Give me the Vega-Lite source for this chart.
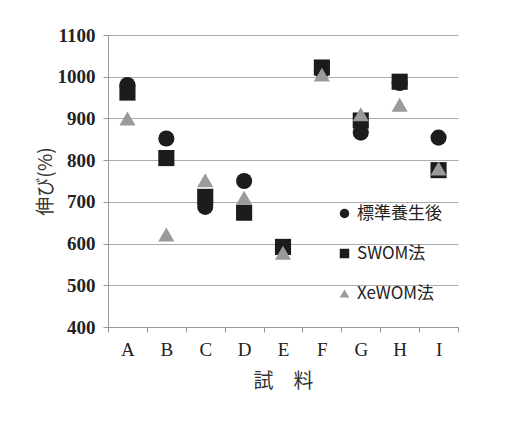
{
  "$schema": "https://vega.github.io/schema/vega-lite/v6.json",
  "autosize": {"type": "none"},
  "width": 350,
  "height": 292,
  "padding": {"left": 108, "top": 35, "right": 69, "bottom": 96},
  "background": "white",
  "config": {"view": {"stroke": null}},
  "data": {"values": [
    {"s": "A", "m": "標準養生後", "v": 980},
    {"s": "B", "m": "標準養生後", "v": 852},
    {"s": "C", "m": "標準養生後", "v": 688},
    {"s": "D", "m": "標準養生後", "v": 750},
    {"s": "E", "m": "標準養生後", "v": 588},
    {"s": "F", "m": "標準養生後", "v": 1015},
    {"s": "G", "m": "標準養生後", "v": 866},
    {"s": "H", "m": "標準養生後", "v": 985},
    {"s": "I", "m": "標準養生後", "v": 854},
    {"s": "A", "m": "SWOM法", "v": 962},
    {"s": "B", "m": "SWOM法", "v": 805},
    {"s": "C", "m": "SWOM法", "v": 712},
    {"s": "D", "m": "SWOM法", "v": 674},
    {"s": "E", "m": "SWOM法", "v": 592},
    {"s": "F", "m": "SWOM法", "v": 1022},
    {"s": "G", "m": "SWOM法", "v": 895},
    {"s": "H", "m": "SWOM法", "v": 988},
    {"s": "I", "m": "SWOM法", "v": 776},
    {"s": "A", "m": "XeWOM法", "v": 900},
    {"s": "B", "m": "XeWOM法", "v": 622},
    {"s": "C", "m": "XeWOM法", "v": 752},
    {"s": "D", "m": "XeWOM法", "v": 710},
    {"s": "E", "m": "XeWOM法", "v": 578},
    {"s": "F", "m": "XeWOM法", "v": 1005},
    {"s": "G", "m": "XeWOM法", "v": 910},
    {"s": "H", "m": "XeWOM法", "v": 933},
    {"s": "I", "m": "XeWOM法", "v": 780}
  ]},
  "mark": {"type": "point", "filled": true, "opacity": 1},
  "encoding": {
    "x": {
      "field": "s", "type": "nominal", "title": "試　料",
      "scale": {"type": "band", "paddingInner": 0, "paddingOuter": 0},
      "axis": {
        "labelAngle": 0, "tickBand": "extent", "domainColor": "#999", "tickColor": "#999",
        "tickSize": 5, "labelFont": "Liberation Serif", "labelFontSize": 19,
        "labelColor": "#222", "labelPadding": 8, "titleFont": "Noto Sans CJK JP",
        "titleFontSize": 20, "titleFontWeight": "normal", "titleColor": "#333", "titlePadding": 12
      }
    },
    "y": {
      "field": "v", "type": "quantitative", "title": "伸び(%)",
      "scale": {"domain": [400, 1100], "nice": false, "zero": false},
      "axis": {
        "values": [400, 500, 600, 700, 800, 900, 1000, 1100], "format": "d",
        "grid": true, "gridColor": "#aaa", "domainColor": "#999", "tickColor": "#999",
        "tickSize": 5, "labelFont": "Liberation Serif", "labelFontSize": 19,
        "labelFontWeight": "bold", "labelColor": "#222", "labelPadding": 8,
        "titleFont": "Noto Sans CJK JP", "titleFontSize": 19, "titleFontWeight": "normal",
        "titleColor": "#333", "titlePadding": 2
      }
    },
    "shape": {
      "field": "m", "type": "nominal",
      "scale": {"domain": ["標準養生後", "SWOM法", "XeWOM法"], "range": ["circle", "square", "triangle-up"]},
      "legend": {
        "orient": "none", "legendX": 228, "legendY": 170, "title": null,
        "symbolSize": 90, "labelFontSize": 17, "labelFont": "Noto Sans CJK JP",
        "labelColor": "#222", "rowPadding": 22, "labelOffset": 4
      }
    },
    "color": {
      "field": "m", "type": "nominal",
      "scale": {"domain": ["標準養生後", "SWOM法", "XeWOM法"], "range": ["#1c1c1c", "#1c1c1c", "#9a9a9a"]},
      "legend": {
        "orient": "none", "legendX": 228, "legendY": 170, "title": null,
        "symbolSize": 90, "labelFontSize": 17, "labelFont": "Noto Sans CJK JP",
        "labelColor": "#222", "rowPadding": 22, "labelOffset": 4
      }
    },
    "size": {"value": 260}
  }
}
